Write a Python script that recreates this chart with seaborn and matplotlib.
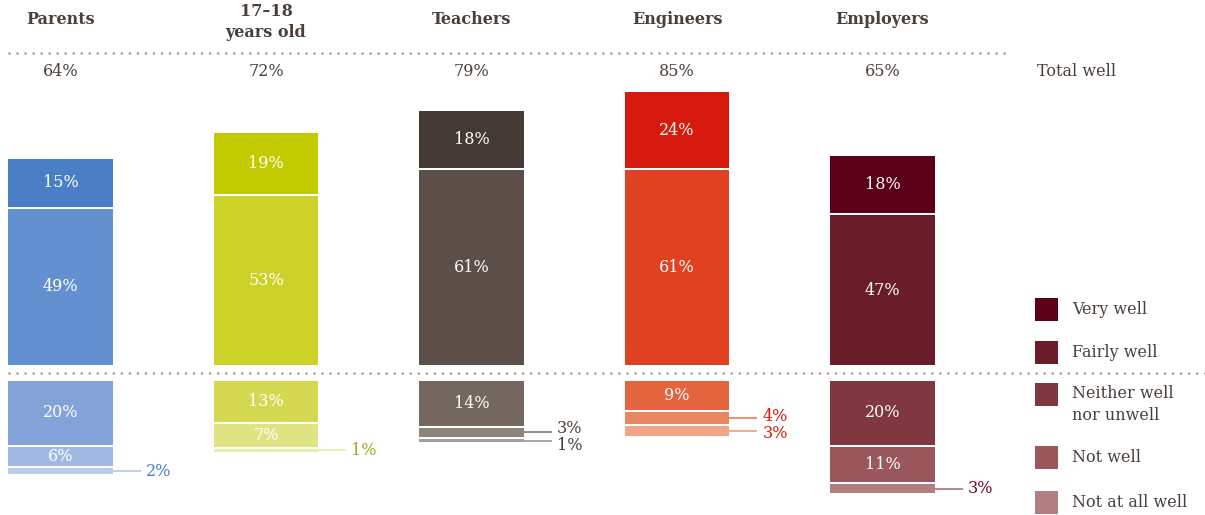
import matplotlib
matplotlib.use("Agg")
import matplotlib.pyplot as plt
import seaborn as sns
import numpy as np
from matplotlib.patches import Rectangle

# ---------------- data ----------------
groups = ["Parents", "17–18\nyears old", "Teachers", "Engineers", "Employers"]
levels = ["Very well", "Fairly well", "Neither well\nnor unwell", "Not well", "Not at all well"]
very_well = [15, 19, 18, 24, 18]
fairly_well = [49, 53, 61, 61, 47]
neither = [20, 13, 14, 9, 20]
not_well = [6, 7, 3, 4, 11]
not_at_all = [2, 1, 1, 3, 3]
total_well = [64, 72, 79, 85, 65]

# colours per group: very, fairly, neither, not well, not at all
group_colors = [
    ["#4A7FC5", "#6391D0", "#82A2D8", "#A1B8E3", "#BACBEB"],
    ["#C2CB00", "#CCD227", "#D5D951", "#DFE384", "#E9ECAA"],
    ["#443A35", "#5C4F49", "#736760", "#8E847E", "#A69D98"],
    ["#D8190D", "#E04121", "#E4643E", "#EA8761", "#F0A686"],
    ["#5C0019", "#6A1D29", "#803740", "#9A585D", "#B27F80"],
]
outside_colors = ["#4A7FC5", "#A7A81C", "#4A403A", "#D8190D", "#6A0A28"]
TEXT = "#4A403A"
DOT = "#9C918B"

sns.set_theme(style="white")
plt.rcParams["font.family"] = ["DejaVu Serif"]

W, H = 1205, 515
fig = plt.figure(figsize=(W / 100, H / 100), dpi=100)
ax = fig.add_axes([0, 0, 1, 1])

# layout helpers (pixel -> data)
X0, DX = 60.5, 205.5
Y0, DY = 365.0, 3.19
def X(px):
    return (px - X0) / DX
def Y(py):
    return (Y0 - py) / DY

GAP = 16 / DY      # gap (in %) between the positive and negative stacks
SEP = 2 / DY       # white separation between stacked segments
BW = 0.51          # bar width in category units

n = len(groups)
fw = np.array(fairly_well, float)
vw = np.array(very_well, float)
ne = np.array(neither, float)
nw = np.array(not_well, float)
na = np.array(not_at_all, float)

b_ne = np.full(n, -GAP)
b_nw = b_ne - ne - SEP
b_na = b_nw - nw - SEP
segments = [
    (1, fw, np.zeros(n)),
    (0, vw, fw + SEP),
    (2, -ne, b_ne),
    (3, -nw, b_nw),
    (4, -na, b_na),
]

for lvl, heights, bottoms in segments:
    before = len(ax.patches)
    sns.barplot(x=groups, y=heights, bottom=bottoms, order=groups, ax=ax,
                width=BW, color="gray", errorbar=None, linewidth=0,
                saturation=1)
    new = ax.patches[before:]
    for i, p in enumerate(new):
        p.set_facecolor(group_colors[i][lvl])
        p.set_edgecolor("none")

# labels inside / outside
for i in range(n):
    xi = i
    right = xi + BW / 2
    for h, b in [(fw[i], 0), (vw[i], fw[i] + SEP)]:
        ax.text(xi, b + h / 2, f"{int(h)}%", ha="center", va="center",
                color="white", fontsize=11.5)
    outs = []
    for lvl, h, b in [(2, ne[i], b_ne[i]), (3, nw[i], b_nw[i]),
                      (4, na[i], b_na[i])]:
        yc = b - h / 2
        if h >= 5:
            ax.text(xi, yc, f"{int(h)}%", ha="center", va="center",
                    color="white", fontsize=11.5)
        else:
            outs.append([lvl, h, yc, yc])
    if len(outs) == 2 and abs(outs[0][2] - outs[1][2]) < 4.8:
        mid = (outs[0][2] + outs[1][2]) / 2
        outs[0][3] = mid + 2.7
        outs[1][3] = mid - 2.7
    for lvl, h, yc, yt in outs:
        ax.plot([right, right + 28 / DX], [yc, yc],
                color=group_colors[i][lvl], lw=1.3, solid_capstyle="butt")
        ax.text(right + 33 / DX, yt, f"{int(h)}%", ha="left", va="center",
                color=outside_colors[i], fontsize=11.5)
    hy = 22 if "\n" in groups[i] else 20
    ax.text(xi, Y(hy), groups[i], ha="center", va="center", color=TEXT,
            fontsize=11.5, fontweight="bold", linespacing=1.35)
    ax.text(xi, Y(72), f"{total_well[i]}%", ha="center", va="center",
            color=TEXT, fontsize=11.5)

ax.text(X(1037), Y(72), "Total well", ha="left", va="center", color=TEXT,
        fontsize=11.5)

# dotted rules
dot_style = dict(color=DOT, lw=1.8, linestyle=(0, (0.01, 3.2)),
                 dash_capstyle="round")
ax.plot([X(9), X(1005)], [Y(53), Y(53)], **dot_style)
ax.plot([X(9), X(1205)], [Y(373), Y(373)], **dot_style)

# legend (Employers colours)
leg_y = [298, 341, 383, 446, 491]
legend_colors = group_colors[4]
for k, lab in enumerate(levels):
    top = leg_y[k]
    ax.add_patch(Rectangle((X(1035), Y(top + 23)), 23 / DX, 23 / DY,
                           facecolor=legend_colors[k], edgecolor="none"))
    if "\n" in lab:
        ax.text(X(1072), Y(top + 2), lab, ha="left", va="top", color=TEXT,
                fontsize=11.5, linespacing=1.35)
    else:
        ax.text(X(1072), Y(top + 11.5), lab, ha="left", va="center",
                color=TEXT, fontsize=11.5)

ax.set_xlim(X(0), X(W))
ax.set_ylim(Y(H), Y(0))
ax.axis("off")

fig.savefig("out.png", dpi=100)
